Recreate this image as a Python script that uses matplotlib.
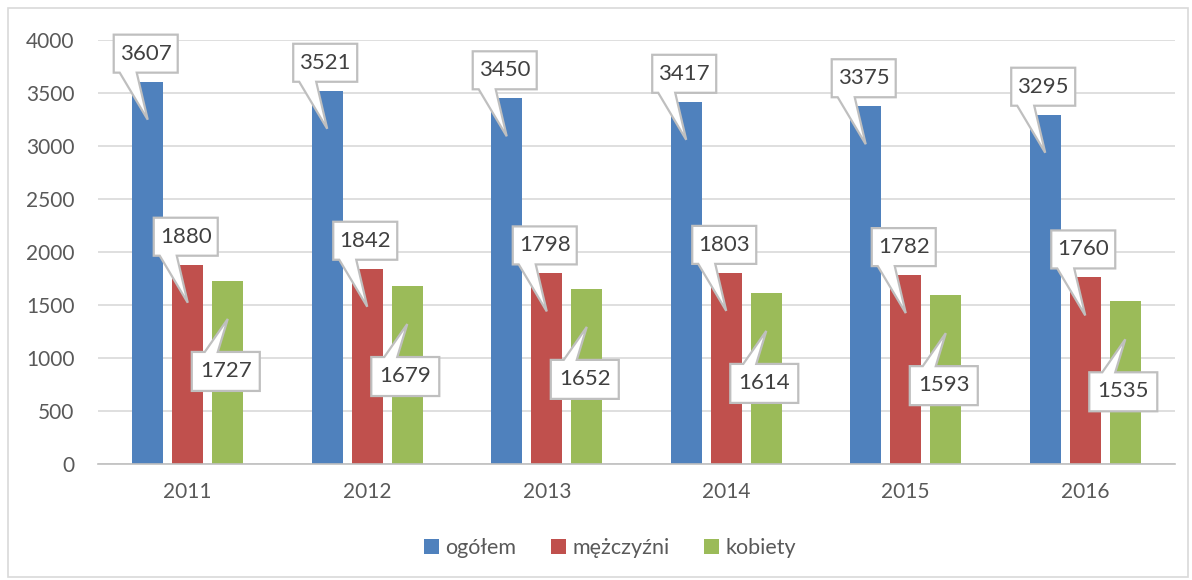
import numpy as np
import matplotlib.pyplot as plt
from matplotlib.patches import Rectangle, Polygon
from matplotlib.transforms import IdentityTransform, ScaledTranslation

plt.rcParams['font.family'] = ['Lato', 'DejaVu Sans']

### Data
years = ['2011', '2012', '2013', '2014', '2015', '2016']
ogolem = [3607, 3521, 3450, 3417, 3375, 3295]
mezczyzni = [1880, 1842, 1798, 1803, 1782, 1760]
kobiety = [1727, 1679, 1652, 1614, 1593, 1535]

# callout placement: True -> box above the pointer tip, False -> below
series = [('ogółem', ogolem, '#4F81BD', True),
          ('mężczyźni', mezczyzni, '#C0504D', True),
          ('kobiety', kobiety, '#9BBB59', False)]

### Callout shapes, in pixels relative to the bar top
TIP = -38
above = [(0, TIP), (-11, TIP + 47), (30, TIP + 47), (30, TIP + 85),
         (-34, TIP + 85), (-34, TIP + 47), (-28, TIP + 47)]
below = [(0, TIP), (-10, TIP - 33), (32, TIP - 33), (32, TIP - 72),
         (-36, TIP - 72), (-36, TIP - 33), (-23, TIP - 33)]

### Figure
fig = plt.figure(figsize=(11.92, 5.8), dpi=100)
fig.patches.append(Rectangle((8/1192, 3/580), 1180/1192, 569/580, transform=fig.transFigure,
                             fill=False, ec='#d9d9d9', lw=1.2))
ax = fig.add_axes([98/1192, 116/580, 1077/1192, 424/580])

x = np.arange(len(years))
w = 0.173
step = 0.223

ax.set_xlim(-0.5, len(years) - 0.5)
ax.set_ylim(0, 4000)

for i, (name, vals, col, up) in enumerate(series):
    xs = x + (i - 1) * step
    ax.bar(xs, vals, width=w, color=col, label=name, zorder=2)
    for xi, v in zip(xs, vals):
        tr = IdentityTransform() + ScaledTranslation(xi, v, ax.transData)
        shape = above if up else below
        ax.add_patch(Polygon(shape, closed=True, transform=tr, fc='white',
                             ec='#bfbfbf', lw=1.6, zorder=5, clip_on=False))
        ty = TIP + 66 if up else TIP - 52
        ax.text(-2, ty, str(v), transform=tr, ha='center', va='center',
                fontsize=16, color='#404040', zorder=6)

ax.set_yticks(np.arange(0, 4001, 500))
ax.set_xticks(x)
ax.set_xticklabels(years)
ax.yaxis.grid(True, color='#d9d9d9', lw=1.2, zorder=0)
for s in ['left', 'right', 'top']:
    ax.spines[s].set_visible(False)
ax.spines['bottom'].set_color('#bfbfbf')
ax.spines['bottom'].set_linewidth(1.2)
ax.tick_params(axis='y', length=0, pad=17, labelsize=15, labelcolor='#595959')
ax.tick_params(axis='x', length=0, pad=13, labelsize=15, labelcolor='#595959')

fig.legend(loc='center', bbox_to_anchor=(610/1192, 1 - 548/580), ncol=3, frameon=False,
           fontsize=15.5, labelcolor='#595959', handlelength=0.7, handleheight=0.7,
           handletextpad=0.3, columnspacing=1.6)

fig.savefig('out.png', dpi=100)
